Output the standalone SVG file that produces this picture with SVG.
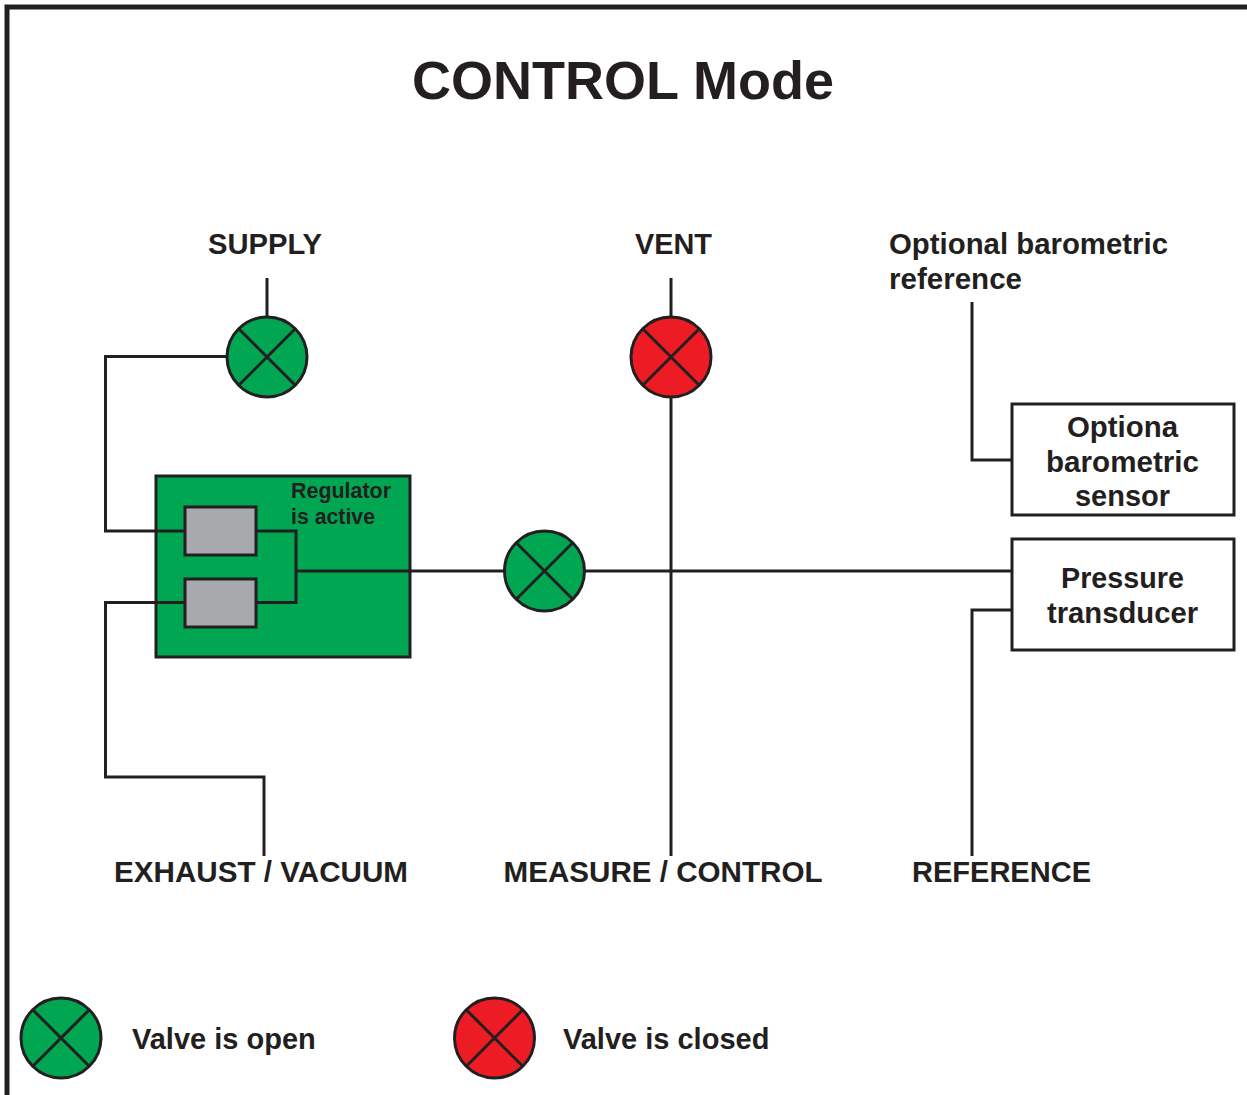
<svg xmlns="http://www.w3.org/2000/svg" width="1247" height="1095" viewBox="0 0 1247 1095">
<style>
text{font-family:"Liberation Sans",Arial,sans-serif;font-weight:bold;fill:#231f20}
.l{font-size:29px}
.c{text-anchor:middle}
.w{fill:none;stroke:#231f20;stroke-width:3}
.v{stroke:#231f20;stroke-width:3}
.g{fill:#00a651}.r{fill:#ed1c24}
.b{fill:#fff;stroke:#231f20;stroke-width:3}
.s{fill:#a7a9ac;stroke:#231f20;stroke-width:3}
</style>
<defs>
<g id="valve"><circle r="40" class="v" style="fill:inherit"/><path d="M-28-28L28 28M-28 28L28-28" class="w"/></g>
</defs>
<rect width="1247" height="1095" fill="#fff"/>
<path d="M7 1095V7H1247" fill="none" stroke="#231f20" stroke-width="5"/>
<text id="title" x="412" y="99" font-size="54" textLength="422" lengthAdjust="spacingAndGlyphs">CONTROL Mode</text>
<g id="regulator"><rect x="156" y="476" width="254" height="181" class="g" stroke="#231f20" stroke-width="3"/>
<text x="291" y="498" font-size="22" textLength="100" lengthAdjust="spacingAndGlyphs">Regulator</text><text x="291" y="524" font-size="22" textLength="84" lengthAdjust="spacingAndGlyphs">is active</text></g>
<g id="connectors" class="w">
<path d="M267 278V317M227 356.500H105.500V531H185M185 602.500H105.500V777H264V856M256 531H296V602.500H256M296 571H504M585 571H1012M671 278V317M671 397V856M972 302V460H1012M1012 610H972V856"/>
</g>
<g id="valve-a"><rect x="185" y="507" width="71" height="48" class="s"/></g>
<g id="valve-b"><rect x="185" y="579" width="71" height="48" class="s"/></g>
<g id="supply-valve" class="g" transform="translate(267 357)"><use href="#valve"/></g>
<g id="vent-valve" class="r" transform="translate(671 357)"><use href="#valve"/></g>
<g id="measure-valve" class="g" transform="translate(544.500 571)"><use href="#valve"/></g>
<g id="sensor"><rect x="1012" y="404" width="222" height="111" class="b"/>
<text class="l" x="1067" y="437" textLength="111" lengthAdjust="spacingAndGlyphs">Optiona</text><text class="l" x="1046" y="472" textLength="153" lengthAdjust="spacingAndGlyphs">barometric</text><text class="l" x="1075" y="506" textLength="95" lengthAdjust="spacingAndGlyphs">sensor</text></g>
<g id="transducer"><rect x="1012" y="539" width="222" height="111" class="b"/>
<text class="l" x="1061" y="588" textLength="123" lengthAdjust="spacingAndGlyphs">Pressure</text><text class="l" x="1047" y="623" textLength="151" lengthAdjust="spacingAndGlyphs">transducer</text></g>
<text class="l" x="208" y="254" textLength="114" lengthAdjust="spacingAndGlyphs">SUPPLY</text>
<text class="l" x="635" y="254" textLength="77" lengthAdjust="spacingAndGlyphs">VENT</text>
<text class="l" x="889" y="254" textLength="279" lengthAdjust="spacingAndGlyphs">Optional barometric</text>
<text class="l" x="889" y="289" textLength="133" lengthAdjust="spacingAndGlyphs">reference</text>
<text class="l" x="114" y="882" textLength="294" lengthAdjust="spacingAndGlyphs">EXHAUST / VACUUM</text>
<text class="l" x="503.500" y="882" textLength="319" lengthAdjust="spacingAndGlyphs">MEASURE / CONTROL</text>
<text class="l" x="912" y="882" textLength="179" lengthAdjust="spacingAndGlyphs">REFERENCE</text>
<g id="legend-open" class="g" transform="translate(61 1038)"><use href="#valve"/></g>
<text class="l" x="132" y="1049">Valve is open</text>
<g id="legend-closed" class="r" transform="translate(494.500 1038)"><use href="#valve"/></g>
<text class="l" x="563" y="1049">Valve is closed</text>
</svg>
